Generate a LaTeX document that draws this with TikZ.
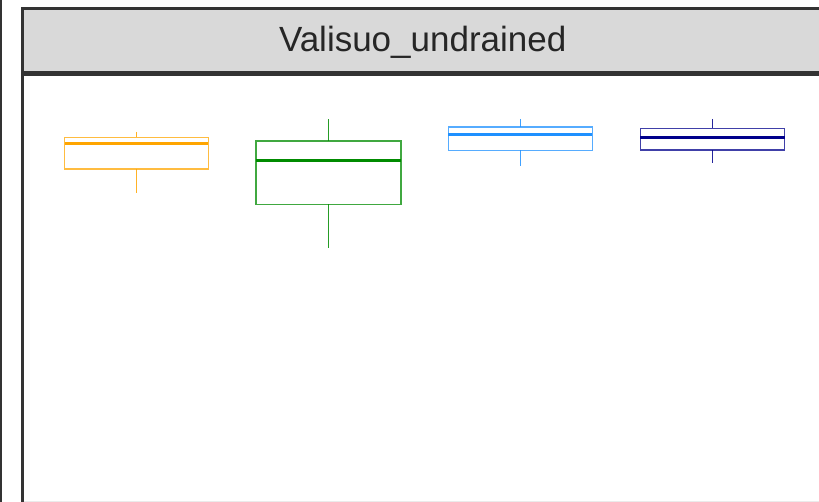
\documentclass[tikz,border=0pt]{standalone}
\usepackage{fontspec}
\setmainfont{Liberation Sans}
\definecolor{framecol}{HTML}{333333}
\definecolor{stripcol}{HTML}{D9D9D9}
\definecolor{gridcol}{HTML}{EBEBEB}
\definecolor{orangec}{HTML}{FFA500}
\definecolor{greenc}{HTML}{008B00}
\definecolor{bluec}{HTML}{1E90FF}
\definecolor{navyc}{HTML}{00008B}
\tikzset{
  boxline/.style={line width=1.4pt,draw opacity=0.75},
  medline/.style={line width=3pt},
  whisk/.style={line width=1.5pt,draw opacity=0.85},
}
% #1 colour, #2 left x, #3 right x, #4 whisker top, #5 box top, #6 median, #7 box bottom, #8 whisker bottom
\newcommand{\mybxplot}[8]{%
  \pgfmathsetmacro{\xc}{(#2+#3)/2}
  \draw[whisk,#1] (\xc,#4) -- (\xc,#5);
  \draw[whisk,#1] (\xc,#7) -- (\xc,#8);
  \draw[boxline,#1] (#2,#5) rectangle (#3,#7);
  \draw[medline,#1] (#2,#6) -- (#3,#6);
}
\begin{document}
\begin{tikzpicture}[x=1pt,y=-1pt]
\useasboundingbox (0,0) rectangle (819,502);
% neighbouring panel edge
\fill[framecol] (0,0) rectangle (2.4,502);
% bottom grid line
\draw[gridcol,line width=1.5pt] (24,501.3) -- (819,501.3);
% strip
\fill[stripcol] (22.5,8.5) rectangle (825,73.5);
\draw[framecol,line width=2.8pt] (22.5,502) -- (22.5,8.5) -- (825,8.5);
\draw[framecol,line width=4.4pt] (22.5,73.5) -- (825,73.5);
\node[font=\fontsize{35}{42}\selectfont,text=black!85,anchor=base,inner sep=0pt] (title) at (422.7,51.7) {Valisuo\_undrained};
% boxes
\mybxplot{orangec}{64.7}{208.3}{132}{137.5}{143.7}{169}{193}
\mybxplot{greenc}{256}{401}{119.5}{141}{161}{204.5}{248.5}
\mybxplot{bluec}{448.3}{592.3}{119}{127}{134.3}{150.5}{166}
\mybxplot{navyc}{640.3}{784.5}{119}{128.5}{138}{150.2}{163}
\end{tikzpicture}
\end{document}
